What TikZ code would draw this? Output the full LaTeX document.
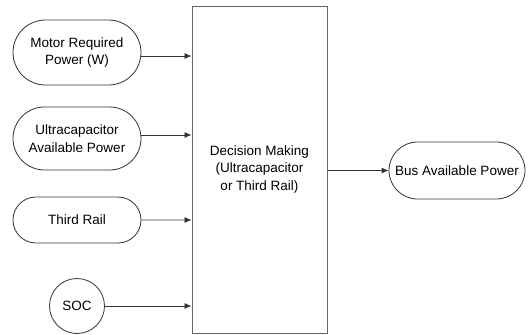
\documentclass[tikz,border=0pt]{standalone}
\usepackage{fontspec}
\setmainfont{Liberation Sans}
\usepackage{tikz}
\usetikzlibrary{positioning,shapes.misc,arrows.meta}

\begin{document}
\begin{tikzpicture}[x=1pt,y=-1pt,
    term/.style={rounded rectangle,draw=black!80,line width=0.8pt,inner sep=2pt,align=center,font=\fontsize{13.5}{17.5}\selectfont},
    flow/.style={draw=black!80,line width=0.8pt,-{Latex[length=7pt,width=6pt]}}]
  \useasboundingbox (0,0) rectangle (528,335);
  % decision block
  \node[draw=black!60,line width=1pt,minimum width=135pt,minimum height=327pt,align=center,font=\fontsize{13.5}{17.5}\selectfont](decide) at (259.5,169.5){Decision Making\\(Ultracapacitor\\or Third Rail)};
  % inputs
  \node[term,minimum width=132pt,minimum height=65pt](motor) at (77,52.5){Motor Required\\Power (W)};
  \node[term,minimum width=132pt,minimum height=63pt](ucap) at (77,138.5){Ultracapacitor\\Available Power};
  \node[term,minimum width=132pt,minimum height=46pt](rail) at (77,220){Third Rail};
  \node[circle,draw=black!80,line width=0.8pt,minimum size=55pt,inner sep=0pt,font=\fontsize{13.5}{17.5}\selectfont](soc) at (77,306){SOC};
  % output
  \node[term,minimum width=140pt,minimum height=57pt](bus) at (457,170.5){Bus Available Power};
  \coordinate (in1) at (decide.west |- 0,56);
  \coordinate (in2) at (decide.west |- 0,135);
  \draw[flow] (motor.east |- in1) -- (in1);
  \draw[flow] (ucap.east |- in2) -- (in2);
  \draw[flow] (rail) -- (rail -| decide.west);
  \draw[flow] (soc) -- (soc -| decide.west);
  \draw[flow] (decide.east |- bus) -- (bus);
\end{tikzpicture}
\end{document}
